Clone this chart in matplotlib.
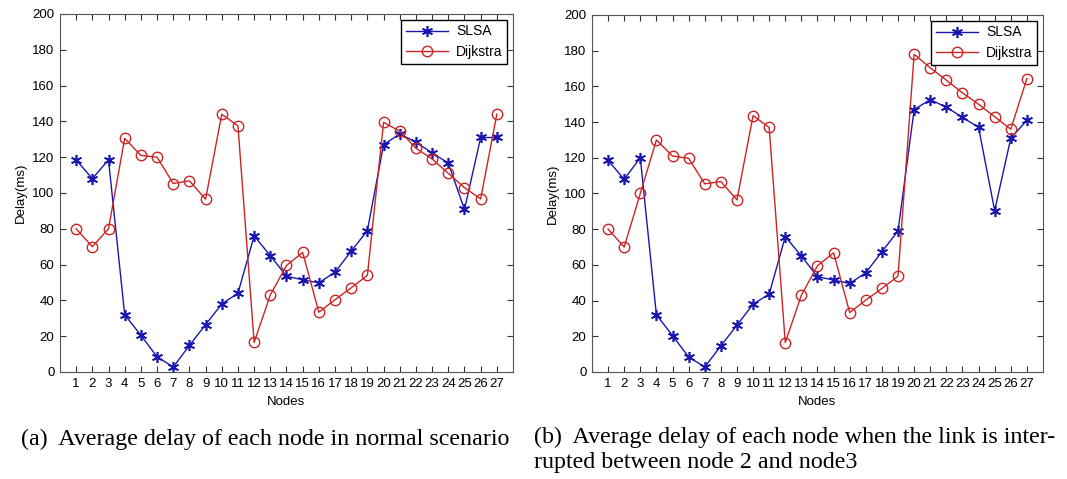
import matplotlib
matplotlib.use("Agg")
import matplotlib.pyplot as plt

plt.rcParams["font.family"] = "Liberation Sans"

nodes = list(range(1, 28))

slsa_a = [118.5, 108, 118.5, 32, 20.5, 8.5, 2.8, 14.8, 26.5, 38, 44, 76, 65, 53.5, 51.5, 49.8, 55.8,
          67.5, 79, 127, 133, 128.4, 122.4, 116.7, 90.8, 131, 131]
dijk_a = [80, 70, 80, 130.5, 121, 120, 105.3, 106.8, 96.5, 144, 137.5, 16.5, 43, 59.5, 66.8, 33.4, 40.4,
          47, 54, 139.5, 134.5, 125, 119, 111, 103, 96.7, 144]

slsa_b = [118.5, 108, 120, 32, 20.4, 8.4, 2.8, 14.6, 26.2, 38, 43.6, 75.8, 65, 53.4, 51.5, 49.6, 55.6,
          67.4, 79, 147, 152.6, 148.3, 142.7, 137, 90.4, 131, 141]
dijk_b = [80, 70, 100, 130, 121, 119.7, 105.4, 106.7, 96.4, 143.6, 137, 16.5, 43, 59.5, 66.8, 33.3, 40.3,
          46.8, 53.7, 178, 170.4, 163.5, 156.4, 150, 143, 136, 164.4]

captions = ["(a)  Average delay of each node in normal scenario",
            "(b)  Average delay of each node when the link is inter-\nrupted between node 2 and node3"]

fig = plt.figure(figsize=(10.67, 4.79), dpi=100)
ax1 = fig.add_axes([0.0562, 0.2234, 0.4246, 0.7474])
ax2 = fig.add_axes([0.5548, 0.2234, 0.4227, 0.7453])

for ax, slsa, dijk in [(ax1, slsa_a, dijk_a), (ax2, slsa_b, dijk_b)]:
    ax.plot(nodes, slsa, color="#1818b0", marker=(6, 2, 0), markersize=8, markeredgewidth=1.2,
            linewidth=1, label="SLSA")
    ax.plot(nodes, dijk, color="#cc2424", marker="o", markersize=7.5, markerfacecolor="none",
            markeredgewidth=1, linewidth=1, label="Dijkstra")
    ax.set_xlim(0, 28)
    ax.set_ylim(0, 200)
    ax.set_xticks(nodes)
    ax.set_yticks(range(0, 201, 20))
    ax.tick_params(direction="in", top=True, right=True, labelsize=9.5, pad=4, length=4,
                   color="#333333")
    for s in ax.spines.values():
        s.set_color("#555555")
    ax.set_xlabel("Nodes", fontsize=9.5, labelpad=5)
    ax.set_ylabel("Delay(ms)", fontsize=9.5, labelpad=4)
    leg = ax.legend(loc="upper right", fontsize=10, fancybox=False, framealpha=1,
                    edgecolor="black", borderaxespad=0.4, handlelength=3.0,
                    borderpad=0.35, labelspacing=0.45, handletextpad=0.6)
    leg.get_frame().set_linewidth(1)

fig.text(0.020, 0.083, captions[0], fontsize=17.3, family="Liberation Serif", va="center")
fig.text(0.500, 0.108, captions[1], fontsize=17.3, family="Liberation Serif", va="top",
         linespacing=1.2)

fig.savefig("out.png", dpi=100)
